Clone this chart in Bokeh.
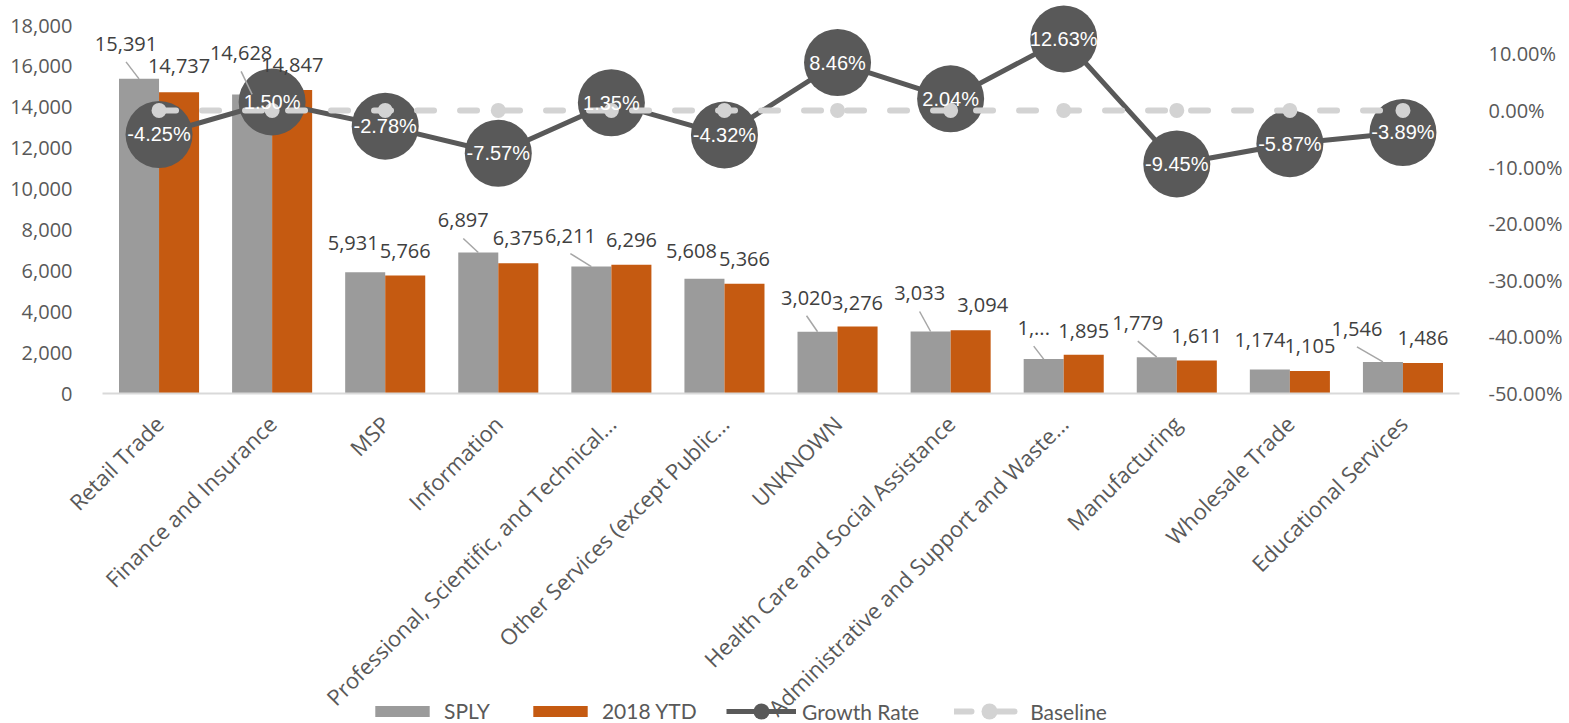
import math
from bokeh.plotting import figure
from bokeh.models import (ColumnDataSource, Range1d, LinearAxis, FixedTicker,
                          NumeralTickFormatter, Legend, LegendItem)
from bokeh.transform import dodge
from bokeh.core.properties import value
from bokeh.embed import file_html
from bokeh.resources import INLINE

# ---------------- data ----------------
categories = ["Retail Trade", "Finance and Insurance", "MSP", "Information",
              "Professional, Scientific, and Technical...",
              "Other Services (except Public...", "UNKNOWN",
              "Health Care and Social Assistance",
              "Administrative and Support and Waste...", "Manufacturing",
              "Wholesale Trade", "Educational Services"]
sply = [15391, 14628, 5931, 6897, 6211, 5608, 3020, 3033, 1682, 1779, 1174, 1546]
ytd = [14737, 14847, 5766, 6375, 6296, 5366, 3276, 3094, 1895, 1611, 1105, 1486]
growth_pct = [-4.25, 1.50, -2.78, -7.57, 1.35, -4.32, 8.46, 2.04, 12.63, -9.45, -5.87, -3.89]
baseline_pct = [0.0] * 12
left_ticks = [0, 2000, 4000, 6000, 8000, 10000, 12000, 14000, 16000, 18000]
right_ticks = [-0.5, -0.4, -0.3, -0.2, -0.1, 0.0, 0.1]

sply_text = [f"{v:,}" for v in sply]
sply_text[8] = "1,..."
ytd_text = [f"{v:,}" for v in ytd]
growth_text = [f"{g:.2f}%" for g in growth_pct]

# ---------------- label placement (screen pixels) ----------------
sply_dx = [-13, -11, -12, -15, -21, -13, -11, -11, -10, -19, -10, -26]
sply_dy = [-35, -41, -29, -32, -31, -28, -34, -38, -31, -34, -29, -33]
sply_leader = [1, 1, 0, 1, 1, 0, 1, 1, 1, 1, 0, 1]
ytd_dx = [0, 0, 0, 0, 0, 0, 0, 12, 0, 0, 0, 0]
ytd_dy = [-26, -25, -25, -25, -25, -25, -24, -25, -24, -25, -25, -25]

# ---------------- geometry / styles ----------------
W, H = 1569, 723
PL, PR, PT, PB = 102, 110, 25, 330      # plot-area margins inside the canvas
FW, FH = W - PL - PR, H - PT - PB
N = len(categories)
YMAX = 18000
PMIN, PMAX = -0.5, 0.15
BAR_W = 0.354
OFF = BAR_W / 2
px_x = FW / N
px_y = FH / YMAX
pct_per_px = (PMAX - PMIN) / FH

GRAY = "#9B9B9B"
ORANGE = "#C55A11"
DARK = "#595959"
LIGHT = "#D3D3D3"
TXT = "#595959"

xs = list(range(N))
growth = [g / 100 for g in growth_pct]

src = ColumnDataSource(dict(
    x=xs, sply=sply, ytd=ytd, growth=growth, base=baseline_pct,
    stext=sply_text, ytext=ytd_text, gtext=growth_text,
    sdx=sply_dx, sdy=sply_dy, ydx=ytd_dx, ydy=ytd_dy,
))

# leader lines (from label to bar top)
lx0, ly0, lx1, ly1 = [], [], [], []
for i in xs:
    if sply_leader[i]:
        bx = i - OFF
        lx0.append(bx + sply_dx[i] / px_x)
        ly0.append(sply[i] - (sply_dy[i] + 18) / px_y)
        lx1.append(bx)
        ly1.append(sply[i])
lead_src = ColumnDataSource(dict(x0=lx0, y0=ly0, x1=lx1, y1=ly1))

x_range = Range1d(-0.5 - PL / px_x, N - 0.5 + PR / px_x)
y_range = Range1d(-PB / px_y, YMAX + PT / px_y)
pct_range = Range1d(PMIN - PB * pct_per_px, PMAX + PT * pct_per_px)

p = figure(width=W, height=H, output_backend="svg", toolbar_location=None,
           x_range=x_range, y_range=y_range, min_border=0,
           x_axis_location=None, y_axis_location=None)
p.extra_y_ranges = {"pct": pct_range}
p.outline_line_color = None
p.background_fill_color = "white"
p.border_fill_color = "white"
p.grid.visible = False


def style_axis(ax, size="20px"):
    ax.major_tick_line_color = None
    ax.minor_tick_line_color = None
    ax.major_label_text_font = "Open Sans"
    ax.major_label_text_font_size = size
    ax.major_label_text_color = TXT


# category axis, sitting on the value 0
xa = LinearAxis(ticker=FixedTicker(ticks=xs), fixed_location=0,
                bounds=(-0.5, N - 0.5))
xa.major_label_overrides = {i: c for i, c in enumerate(categories)}
xa.major_label_orientation = math.pi / 4
xa.axis_line_color = "#D9D9D9"
xa.axis_line_width = 2
style_axis(xa, "22px")
xa.major_label_standoff = 20
p.add_layout(xa, "below")

ya = LinearAxis(ticker=FixedTicker(ticks=left_ticks), fixed_location=-0.5,
                formatter=NumeralTickFormatter(format="0,0"))
ya.axis_line_color = None
style_axis(ya)
ya.major_label_standoff = 24
p.add_layout(ya, "left")

ra = LinearAxis(y_range_name="pct", ticker=FixedTicker(ticks=right_ticks),
                fixed_location=N - 0.5, formatter=NumeralTickFormatter(format="0.00%"))
ra.axis_line_color = None
style_axis(ra)
ra.major_label_standoff = 23
p.add_layout(ra, "right")

# bars
r_sply = p.vbar(x=dodge("x", -OFF, range=p.x_range), top="sply", width=BAR_W,
                source=src, fill_color=GRAY, line_color=None)
r_ytd = p.vbar(x=dodge("x", OFF, range=p.x_range), top="ytd", width=BAR_W,
               source=src, fill_color=ORANGE, line_color=None)

# growth rate
r_gline = p.line(x="x", y="growth", source=src, y_range_name="pct",
                 line_color=DARK, line_width=5)
r_gdot = p.scatter(x="x", y="growth", source=src, y_range_name="pct",
                   size=67, fill_color=DARK, line_color=None)

# baseline
r_bline = p.line(x="x", y="base", source=src, y_range_name="pct",
                 line_color=LIGHT, line_width=6, line_dash="17 26", line_cap="round")
r_bdot = p.scatter(x="x", y="base", source=src, y_range_name="pct",
                   size=15, fill_color=LIGHT, line_color=None)

# leader lines
p.segment(x0="x0", y0="y0", x1="x1", y1="y1", source=lead_src,
          line_color="#A6A6A6", line_width=1.5)

# value labels
p.text(x=dodge("x", -OFF, range=p.x_range), y="sply", text="stext", source=src,
       x_offset="sdx", y_offset="sdy", text_align="center", text_baseline="middle",
       text_font=value("Open Sans"), text_font_size="20px", text_color="#404040")
p.text(x=dodge("x", OFF, range=p.x_range), y="ytd", text="ytext", source=src,
       x_offset="ydx", y_offset="ydy", text_align="center", text_baseline="middle",
       text_font=value("Open Sans"), text_font_size="20px", text_color="#404040")
p.text(x="x", y="growth", text="gtext", source=src, y_range_name="pct",
       text_align="center", text_baseline="middle",
       text_font=value("Liberation Sans"), text_font_size="20px", text_color="white")

# legends
common = dict(orientation="horizontal", padding=0, margin=0, border_line_color=None,
              background_fill_alpha=0, label_text_font="Lato",
              label_text_font_size="21px", label_text_color=TXT, label_height=20)
leg_a = Legend(items=[LegendItem(label="SPLY", renderers=[r_sply]),
                      LegendItem(label="2018 YTD", renderers=[r_ytd])],
               location=(368, 0), glyph_width=68, glyph_height=14,
               label_standoff=8, spacing=36, **common)
leg_b = Legend(items=[LegendItem(label="Growth Rate", renderers=[r_gline, r_gdot]),
                      LegendItem(label="Baseline", renderers=[r_bline, r_bdot])],
               location=(726, -8), glyph_width=70, glyph_height=40,
               label_standoff=6, spacing=35, **common)
p.add_layout(leg_a)
p.add_layout(leg_b)

open("out.html", "w").write(file_html(p, INLINE))
